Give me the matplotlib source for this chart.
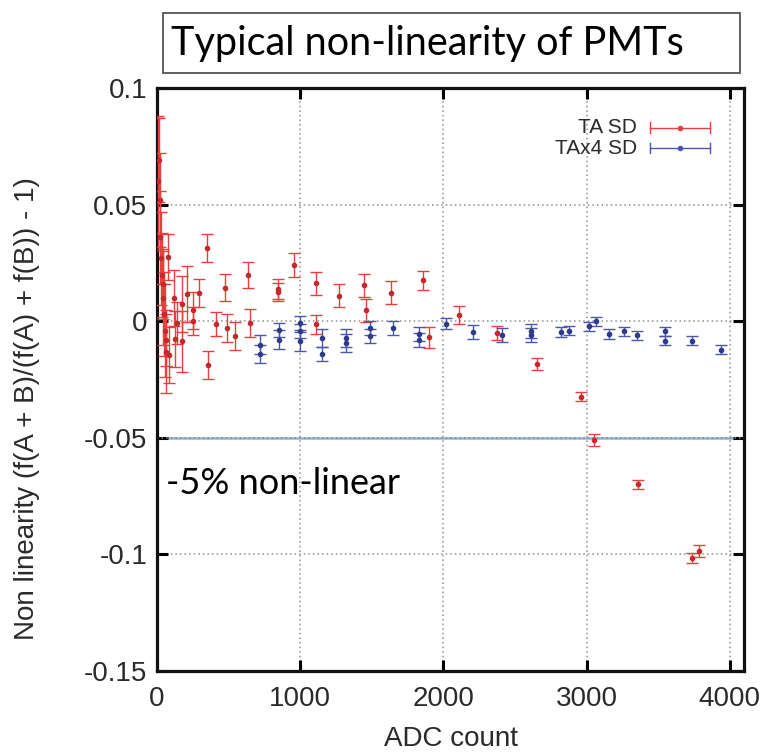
import matplotlib
matplotlib.use("Agg")
import matplotlib.pyplot as plt
from matplotlib.patches import Rectangle

# ---------------- data ----------------
ta_x = [8, 12, 18, 22, 28, 33, 40, 45, 50, 55, 60, 65, 79, 86, 118, 125, 141, 177, 177,
        207, 253, 253, 295, 346, 358, 410, 474, 486, 546, 634, 650, 843, 843, 955,
        1110, 1110, 1268, 1443, 1457, 1636, 1861, 1898, 2111, 2375, 2657, 2960,
        3052, 3359, 3737, 3789]
ta_y = [0.060, 0.069, 0.052, 0.036, 0.027, 0.020, 0.016, 0.010, 0.003, -0.004, -0.008,
        -0.013, 0.0276, -0.0144, 0.0098, -0.0078, -0.0007, 0.0075, -0.0086,
        0.0115, 0.0046, 0.0000, 0.0119, 0.0312, -0.0187, -0.0012, 0.0144, -0.0031,
        -0.0062, 0.0197, -0.0007, 0.0137, 0.0125, 0.0241, 0.0162, -0.0014, 0.0110,
        0.0154, 0.0046, 0.0122, 0.0175, -0.0069, 0.0026, -0.0050, -0.0184, -0.0323,
        -0.0510, -0.0700, -0.1015, -0.0985]
ta_err = [0.028, 0.018, 0.020, 0.020, 0.020, 0.018, 0.015, 0.020, 0.018, 0.020, 0.011,
          0.018, 0.010, 0.012, 0.012, 0.012, 0.009, 0.012, 0.013,
          0.012, 0.008, 0.006, 0.006, 0.006, 0.006, 0.005, 0.0057, 0.006,
          0.006, 0.0056, 0.006, 0.0043, 0.004, 0.005, 0.005, 0.004, 0.005,
          0.005, 0.005, 0.005, 0.004, 0.0045, 0.004, 0.003, 0.0025, 0.002,
          0.0025, 0.002, 0.002, 0.0025]

tax4_x = [718, 718, 853, 853, 997, 997, 997, 1155, 1155, 1317, 1317, 1489, 1489, 1647,
          1833, 1833, 2019, 2209, 2413, 2610, 2610, 2820, 2878, 3017, 3064, 3157,
          3261, 3354, 3551, 3551, 3737, 3942]
tax4_y = [-0.0100, -0.0140, -0.0036, -0.0079, -0.0007, -0.0043, -0.0086, -0.0072,
          -0.0140, -0.0072, -0.0093, -0.0031, -0.0065, -0.0031, -0.0057, -0.0079,
          -0.0010, -0.0046, -0.0060, -0.0043, -0.0060, -0.0047, -0.0040, -0.0022,
          0.0000, -0.0055, -0.0043, -0.0060, -0.0043, -0.0083, -0.0083, -0.0122]
tax4_err = [0.004, 0.004, 0.003, 0.004, 0.003, 0.003, 0.004, 0.004, 0.003, 0.004,
            0.004, 0.003, 0.003, 0.003, 0.003, 0.003, 0.0025, 0.003, 0.003, 0.003,
            0.003, 0.002, 0.002, 0.002, 0.002, 0.002, 0.002, 0.002, 0.002, 0.002,
            0.002, 0.002]

x_ticks = [0, 1000, 2000, 3000, 4000]
y_ticks = [-0.15, -0.1, -0.05, 0, 0.05, 0.1]
y_ticklabels = ["-0.15", "-0.1", "-0.05", "0", "0.05", "0.1"]
threshold = -0.05

title_text = "Typical non-linearity of PMTs"
annot_text = "-5% non-linear"
xlabel = "ADC count"
ylabel = "Non linearity (f(A + B)/(f(A) + f(B)) - 1)"
legend_labels = ["TA SD", "TAx4 SD"]

# ---------------- style ----------------
RED = "#e8403c"
BLUE = "#4b57a8"
TXT = "#2a2a2a"
plt.rcParams['font.family'] = ['Liberation Sans', 'DejaVu Sans']

W, H = 768, 755
fig = plt.figure(figsize=(W / 100, H / 100), dpi=100)
L, R, T, B = 157, 744, 88, 671
ax = fig.add_axes([L / W, 1 - B / H, (R - L) / W, (B - T) / H])

ax.set_xlim(0, 4100)
ax.set_ylim(-0.15, 0.1)

# grid
for xv in x_ticks[1:]:
    ax.axvline(xv, color="#8f8f8f", lw=1.1, ls=(0, (1.0, 2.0)), zorder=1)
for yv in y_ticks[1:-1]:
    ax.axhline(yv, color="#8f8f8f", lw=1.1, ls=(0, (1.0, 2.0)), zorder=1)

ax.axhline(threshold, color="#8fb4d8", lw=1.8, zorder=1.5)
ax.axhline(threshold, color="#8a8a8a", lw=1.1, ls=(0, (1.0, 2.0)), zorder=1.6)

ax.errorbar(ta_x, ta_y, yerr=ta_err, fmt='o', ms=3.0, color=RED, mfc="#c8282c",
            mec="#c8282c", elinewidth=1.0, capsize=4.2, capthick=1.0, zorder=3)
ax.errorbar(tax4_x, tax4_y, yerr=tax4_err, fmt='o', ms=3.0, color=BLUE, mfc="#2f3a8a",
            mec="#2f3a8a", elinewidth=1.0, capsize=4.2, capthick=1.0, zorder=3)

ax.set_xticks(x_ticks)
ax.set_yticks(y_ticks)
ax.set_yticklabels(y_ticklabels)
ax.tick_params(direction='in', length=8, width=2.2, labelsize=20, top=True,
               right=True, color='black', labelcolor=TXT)
ax.tick_params(axis='x', pad=11)
ax.tick_params(axis='y', pad=7)
for s in ax.spines.values():
    s.set_linewidth(2.3)
    s.set_color('#111111')

ax.set_xlabel(xlabel, fontsize=20, color=TXT, labelpad=10)
ax.set_ylabel(ylabel, fontsize=20, color=TXT)
ax.yaxis.set_label_coords(-0.2, 0.45)

# legend (gnuplot style)
rows = [(legend_labels[0], RED, 0.932), (legend_labels[1], BLUE, 0.897)]
x0, x1 = 0.84, 0.942
for lab, col, yy in rows:
    ax.text(0.818, yy, lab, transform=ax.transAxes, ha='right', va='center',
            fontsize=15, color=TXT)
    ax.plot([x0, x1], [yy, yy], transform=ax.transAxes, color=col, lw=1.0,
            clip_on=False)
    for xx in (x0, x1):
        ax.plot([xx, xx], [yy - 0.009, yy + 0.009], transform=ax.transAxes,
                color=col, lw=1.0, clip_on=False)
    ax.plot([(x0 + x1) / 2], [yy], 'o', ms=3.0, color=col, transform=ax.transAxes,
            clip_on=False)

ax.text(0.015, 0.322, annot_text, transform=ax.transAxes, ha='left', va='center',
        fontsize=26, family=['Lato', 'DejaVu Sans'], color='black')

# title box
fig.patches.append(Rectangle((163 / W, 1 - 73 / H), (740 - 163) / W, (73 - 13) / H,
                             transform=fig.transFigure, fill=False,
                             edgecolor='#555555', lw=1.3))
fig.text(171 / W, 1 - 43 / H, title_text, ha='left', va='center', fontsize=28.5,
         family=['Lato', 'DejaVu Sans'], color='black')

fig.savefig("out.png", dpi=100)
